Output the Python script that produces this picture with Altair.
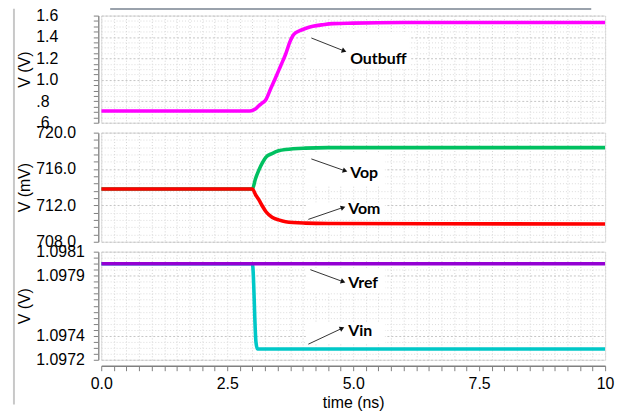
import altair as alt
import pandas as pd

# ---------------- data ----------------
T_OUT = [0, 2.95, 3.05, 3.13, 3.2, 3.26, 3.36, 3.46, 3.56, 3.66, 3.74, 3.8, 3.86, 3.94, 4.05, 4.2, 4.4, 4.6, 5.0, 6.0, 10]
OUTBUFF = [0.71, 0.71, 0.725, 0.76, 0.785, 0.81, 0.915, 1.02, 1.13, 1.24, 1.35, 1.41, 1.44, 1.46, 1.48, 1.50, 1.515, 1.525, 1.53, 1.535, 1.535]

T_DIFF = [0, 3.0, 3.06, 3.13, 3.2, 3.27, 3.39, 3.52, 3.66, 4.05, 4.5, 10]
VOP = [713.8, 713.8, 714.9, 715.9, 716.7, 717.3, 717.7, 718.0, 718.15, 718.3, 718.35, 718.35]
VOM = [713.8, 713.8, 713.2, 712.6, 711.9, 711.3, 710.7, 710.4, 710.2, 710.05, 710.0, 709.95]

T_IN = [0, 3.0, 3.07, 3.1, 10]
VREF = [1.09800, 1.09800, 1.09800, 1.09800, 1.09800]
VIN = [1.09800, 1.09800, 1.097350, 1.097290, 1.097290]

# axis ticks / labels
X_TICKS = [0, 2.5, 5, 7.5, 10]
X_LABELS = ["0.0", "2.5", "5.0", "7.5", "10"]
X_MINOR = [round(i * 0.25, 4) for i in range(41)]

P1_TICKS = [0.6, 0.8, 1.0, 1.2, 1.4, 1.6]
P1_LABELS = [".6", ".8", "1.0", "1.2", "1.4", "1.6"]
P1_MINOR = [round(0.6 + i * 0.05, 4) for i in range(21)]

P2_TICKS = [708.0, 712.0, 716.0, 720.0]
P2_LABELS = ["708.0", "712.0", "716.0", "720.0"]
P2_MINOR = [round(708 + i * 0.8, 4) for i in range(16)]

P3_TICKS = [1.0972, 1.0974, 1.0979, 1.0981]
P3_LABELS = ["1.0972", "1.0974", "1.0979", "1.0981"]
P3_MINOR = [round(1.0972 + i * 0.00005, 6) for i in range(19)]

# annotations: label, arrow start (t, v), arrow end (t, v), text anchor (t, v), arrow angle, white box
ANN1 = dict(label=["Outbuff"], t0=[4.17], v0=[1.391], t1=[4.82], v1=[1.270], tt=[4.94], vt=[1.195], ang=[21],
            bx0=[4.08], bx1=[6.12], by0=[1.447], by1=[1.102])
ANN2 = dict(label=["Vop", "Vom"], t0=[4.17, 4.11], v0=[717.11, 710.46], t1=[4.84, 4.80], v1=[715.80, 711.77],
            tt=[4.94, 4.90], vt=[715.58, 711.55], ang=[19, 341],
            bx0=[4.06, 4.06], bx1=[5.63, 5.63], by0=[717.76, 712.31], by1=[714.17, 710.46])
ANN3 = dict(label=["Vref", "Vin"], t0=[4.15, 4.11], v0=[1.097950, 1.097330], t1=[4.80, 4.78], v1=[1.097850, 1.097462],
            tt=[4.90, 4.90], vt=[1.097836, 1.097440], ang=[20, 335],
            bx0=[4.06, 4.06], bx1=[5.63, 5.63], by0=[1.097966, 1.097512], by1=[1.097760, 1.097338])

FONT = "Liberation Sans"
W = 508


def label_expr(ticks, labels, eps):
    s = ""
    for v, l in zip(ticks, labels):
        s += f"abs(datum.value - {v}) < {eps} ? '{l}' : "
    return s + "''"


def major_test(ticks, eps):
    return " || ".join(f"abs(datum.value - {v}) < {eps}" for v in ticks)


def x_axis(show):
    common = dict(values=X_MINOR, grid=True, gridColor="#d4d4d4", gridDash=[1, 2], gridWidth=1)
    if show:
        return alt.Axis(labelExpr=label_expr(X_TICKS, X_LABELS, 1e-6), labelFlush=False, labelOverlap=False,
                        tickSize=5, tickColor="#808080", domainColor="#808080", domainWidth=1.5, offset=6,
                        labelFontSize=16, labelFont=FONT, labelColor="black", labelPadding=5,
                        title="time (ns)", titleFont=FONT, titleFontSize=16, titleFontWeight="normal",
                        titleColor="black", titlePadding=3, **common)
    return alt.Axis(labels=False, ticks=False, domain=False, title=None, **common)


def y_axis(title, ticks, labels, minor, eps):
    mt = major_test(ticks, eps)
    return alt.Axis(values=minor, labelExpr=label_expr(ticks, labels, eps), labelOverlap=False, labelBound=False,
                    labelAlign="left", labelPadding=58, offset=3, tickSize=5, tickColor="#808080",
                    domainColor="#909090", domainWidth=1.5,
                    labelFontSize=16, labelFont=FONT, labelColor="black",
                    title=title, titleFont=FONT, titleFontSize=16, titleFontWeight="normal", titleColor="black",
                    titlePadding=3,
                    grid=True,
                    gridColor={"condition": {"test": mt, "value": "#c4c4c4"}, "value": "#dcdcdc"},
                    gridDash={"condition": {"test": mt, "value": [2, 2]}, "value": [1, 2]})


def panel(series, ann, domain, title, ticks, labels, minor, eps, height, show_x, extra=None):
    xs = alt.Scale(domain=[0, 10], nice=False, zero=False)
    ys = alt.Scale(domain=domain, nice=False, zero=False)
    xa = x_axis(show_x)
    ya = y_axis(title, ticks, labels, minor, eps)

    def X(f):
        return alt.X(f"{f}:Q", scale=xs, axis=xa)

    def Y(f):
        return alt.Y(f"{f}:Q", scale=ys, axis=ya)

    layers = []
    adf = pd.DataFrame(ann)
    layers.append(alt.Chart(adf).mark_rect(color="white").encode(
        x=X("bx0"), x2="bx1:Q", y=Y("by0"), y2="by1:Q"))
    for (tt, vv, col) in series:
        df = pd.DataFrame({"t": tt, "v": vv})
        layers.append(alt.Chart(df).mark_line(color=col, strokeWidth=3.6, interpolate="monotone",
                                              clip=True).encode(x=X("t"), y=Y("v")))
    layers.append(alt.Chart(adf).mark_rule(color="#333333", strokeWidth=1).encode(
        x=X("t0"), y=Y("v0"), x2="t1:Q", y2="v1:Q"))
    layers.append(alt.Chart(adf).mark_point(shape="triangle-right", filled=True, color="#111111", size=30,
                                            opacity=1).encode(
        x=X("t1"), y=Y("v1"), angle=alt.Angle("ang:Q", scale=None)))
    layers.append(alt.Chart(adf).mark_text(align="left", baseline="middle", font="Lato", fontWeight="bold",
                                           fontSize=16, color="black").encode(
        x=X("tt"), y=Y("vt"), text="label:N"))
    if extra:
        layers.extend(extra)
    return alt.layer(*layers).properties(width=W, height=height)


frame_df = pd.DataFrame({"k": [0]})
frame_left = alt.Chart(frame_df).mark_rule(color="#c8c8c8", strokeWidth=2).encode(
    x=alt.value(-88), y=alt.value(-7), y2=alt.value(392))
frame_top = alt.Chart(frame_df).mark_rule(color="#9aa2ac", strokeWidth=2.5).encode(
    x=alt.value(9), x2=alt.value(494), y=alt.value(-7))

p1 = panel([(T_OUT, OUTBUFF, "#FF00FF")], ANN1, [0.6, 1.6], "V (V)", P1_TICKS, P1_LABELS, P1_MINOR, 1e-6,
           108, False, extra=[frame_left, frame_top])
p2 = panel([(T_DIFF, VOP, "#00C060"), (T_DIFF, VOM, "#FF0000")], ANN2, [708, 720], "V (mV)",
           P2_TICKS, P2_LABELS, P2_MINOR, 1e-4, 110, False)
p3 = panel([(T_IN, VIN, "#00C8C8"), (T_IN, VREF, "#9400D3")], ANN3, [1.0972, 1.0981], "V (V)",
           P3_TICKS, P3_LABELS, P3_MINOR, 1e-8, 109, True)

chart = alt.vconcat(p1, p2, p3, spacing=10, bounds="flush").properties(
    padding={"left": 4, "top": -3, "right": 4, "bottom": 0}
).configure_view(strokeWidth=0, stroke="transparent").configure(background="white")

chart.save("out.html", embed_options={"renderer": "svg", "actions": False})
